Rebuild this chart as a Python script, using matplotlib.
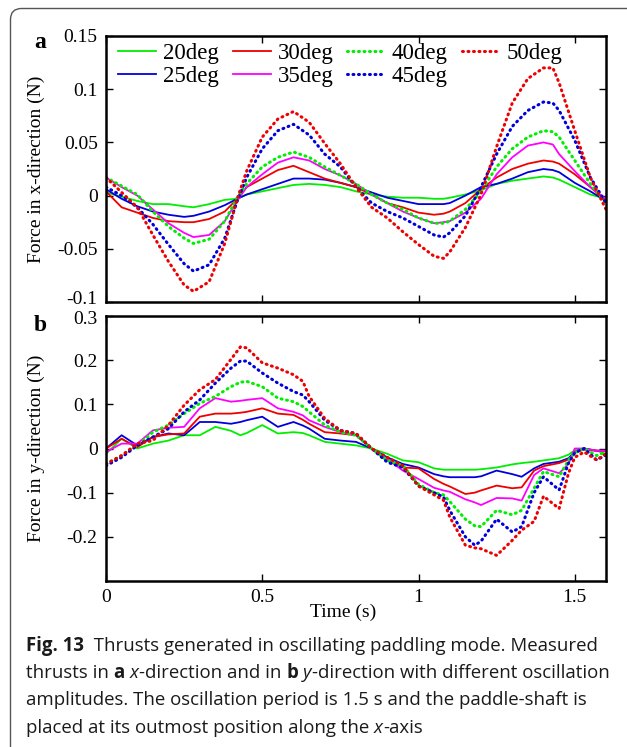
import matplotlib
matplotlib.use('Agg')
import matplotlib.pyplot as plt
from matplotlib.transforms import IdentityTransform, ScaledTranslation
from matplotlib.patches import FancyBboxPatch

plt.rcParams['axes.unicode_minus'] = False

# ---- panel a: force in x-direction (N) ----
t_a = [0, 0.05, 0.1, 0.15, 0.2, 0.25, 0.28, 0.33, 0.38, 0.42, 0.45, 0.5, 0.55, 0.6,
       0.65, 0.7, 0.75, 0.8, 0.85, 0.9, 0.95, 1.0, 1.05, 1.08, 1.1, 1.15, 1.2, 1.25,
       1.3, 1.35, 1.4, 1.43, 1.45, 1.5, 1.55, 1.6]
fx_20 = [0.003, -0.001, -0.005, -0.008, -0.008, -0.010, -0.011, -0.008, -0.004, -0.003, 0.001, 0.004,
         0.007, 0.010, 0.011, 0.010, 0.008, 0.004, 0.001, -0.001, -0.002, -0.002, -0.003, -0.003,
         -0.002, 0.001, 0.005, 0.011, 0.014, 0.016, 0.018, 0.017, 0.015, 0.008, 0.001, -0.003]
fx_25 = [0.006, -0.003, -0.010, -0.015, -0.018, -0.020, -0.019, -0.015, -0.009, -0.003, 0.001, 0.006,
         0.011, 0.016, 0.016, 0.015, 0.012, 0.008, 0.003, -0.002, -0.005, -0.008, -0.008, -0.008,
         -0.007, 0.000, 0.008, 0.011, 0.016, 0.022, 0.025, 0.024, 0.022, 0.012, 0.004, -0.005]
fx_30 = [0.004, -0.011, -0.016, -0.021, -0.024, -0.025, -0.025, -0.022, -0.015, -0.003, 0.008, 0.016,
         0.024, 0.028, 0.022, 0.016, 0.012, 0.008, 0.001, -0.007, -0.011, -0.016, -0.018, -0.017,
         -0.015, -0.007, 0.006, 0.017, 0.025, 0.030, 0.033, 0.032, 0.030, 0.020, 0.008, -0.005]
fx_35 = [0.017, 0.008, 0.000, -0.013, -0.026, -0.035, -0.039, -0.037, -0.024, -0.005, 0.008, 0.020,
         0.031, 0.036, 0.033, 0.025, 0.019, 0.011, 0.001, -0.007, -0.015, -0.021, -0.026, -0.025,
         -0.024, -0.016, -0.003, 0.020, 0.036, 0.047, 0.050, 0.048, 0.039, 0.023, 0.008, -0.003]
fx_40 = [0.017, 0.009, 0.001, -0.015, -0.029, -0.040, -0.045, -0.041, -0.024, -0.002, 0.011, 0.027,
         0.036, 0.041, 0.036, 0.027, 0.019, 0.011, 0.001, -0.007, -0.013, -0.021, -0.026, -0.026,
         -0.024, -0.013, 0.004, 0.027, 0.044, 0.055, 0.061, 0.060, 0.055, 0.033, 0.011, -0.007]
fx_45 = [0.008, 0.000, -0.011, -0.027, -0.046, -0.064, -0.071, -0.065, -0.040, -0.005, 0.017, 0.044,
         0.061, 0.067, 0.057, 0.039, 0.027, 0.008, -0.007, -0.015, -0.021, -0.029, -0.037, -0.039,
         -0.035, -0.019, 0.008, 0.039, 0.065, 0.080, 0.088, 0.087, 0.080, 0.052, 0.017, -0.007]
fx_50 = [0.017, 0.003, -0.011, -0.037, -0.062, -0.084, -0.090, -0.081, -0.045, -0.003, 0.023, 0.055,
         0.072, 0.079, 0.069, 0.049, 0.030, 0.008, -0.011, -0.021, -0.034, -0.046, -0.057, -0.059,
         -0.053, -0.030, 0.001, 0.046, 0.087, 0.110, 0.120, 0.120, 0.106, 0.061, 0.017, -0.013]

# ---- panel b: force in y-direction (N) ----
t_b = [0, 0.05, 0.1, 0.15, 0.2, 0.25, 0.3, 0.35, 0.4, 0.43, 0.45, 0.5, 0.55, 0.6, 0.63, 0.65,
       0.7, 0.75, 0.8, 0.85, 0.9, 0.95, 1.0, 1.05, 1.08, 1.1, 1.15, 1.18, 1.2, 1.25, 1.3, 1.33,
       1.37, 1.4, 1.45, 1.48, 1.5, 1.53, 1.57, 1.6]
fy_20 = [-0.012, 0.022, 0.000, 0.011, 0.018, 0.030, 0.030, 0.049, 0.040, 0.030, 0.035, 0.053, 0.034,
         0.037, 0.035, 0.030, 0.015, 0.011, 0.007, 0.000, -0.012, -0.027, -0.031, -0.045, -0.048,
         -0.048, -0.048, -0.048, -0.047, -0.043, -0.036, -0.033, -0.030, -0.027, -0.022, -0.014,
         -0.004, 0.000, -0.005, -0.012]
fy_25 = [0.000, 0.030, 0.007, 0.026, 0.034, 0.030, 0.060, 0.060, 0.056, 0.060, 0.064, 0.072, 0.049,
         0.060, 0.052, 0.045, 0.022, 0.018, 0.015, 0.000, -0.020, -0.035, -0.043, -0.058, -0.063,
         -0.065, -0.065, -0.065, -0.063, -0.050, -0.058, -0.064, -0.045, -0.035, -0.030, -0.022,
         -0.008, 0.000, -0.005, -0.005]
fy_30 = [0.000, 0.022, 0.003, 0.026, 0.032, 0.034, 0.072, 0.079, 0.079, 0.081, 0.083, 0.091, 0.079,
         0.076, 0.065, 0.056, 0.037, 0.034, 0.030, 0.000, -0.024, -0.043, -0.045, -0.069, -0.080,
         -0.086, -0.103, -0.100, -0.095, -0.084, -0.090, -0.088, -0.050, -0.040, -0.033, -0.025,
         -0.008, -0.003, -0.005, -0.005]
fy_35 = [-0.008, 0.011, 0.011, 0.041, 0.047, 0.049, 0.091, 0.114, 0.106, 0.108, 0.110, 0.114, 0.091,
         0.083, 0.075, 0.064, 0.049, 0.037, 0.030, 0.000, -0.024, -0.050, -0.069, -0.089, -0.095,
         -0.098, -0.115, -0.122, -0.128, -0.112, -0.113, -0.118, -0.060, -0.045, -0.056, -0.035,
         0.000, 0.000, -0.005, -0.005]
fy_40 = [-0.035, -0.016, 0.007, 0.037, 0.053, 0.079, 0.102, 0.118, 0.140, 0.150, 0.152, 0.140, 0.114,
         0.106, 0.095, 0.083, 0.053, 0.037, 0.030, 0.000, -0.027, -0.039, -0.081, -0.100, -0.105,
         -0.120, -0.160, -0.175, -0.177, -0.140, -0.150, -0.140, -0.090, -0.052, -0.064, -0.026,
         -0.010, 0.000, -0.016, -0.008]
fy_45 = [-0.039, -0.020, 0.007, 0.026, 0.045, 0.083, 0.110, 0.148, 0.182, 0.198, 0.198, 0.171, 0.148,
         0.129, 0.121, 0.106, 0.064, 0.041, 0.034, 0.000, -0.031, -0.043, -0.085, -0.100, -0.110,
         -0.140, -0.200, -0.219, -0.210, -0.160, -0.189, -0.177, -0.100, -0.064, -0.094, -0.033,
         -0.010, 0.000, -0.026, -0.015]
fy_50 = [-0.035, -0.016, 0.011, 0.018, 0.053, 0.098, 0.133, 0.156, 0.202, 0.230, 0.228, 0.194, 0.182,
         0.167, 0.152, 0.118, 0.068, 0.041, 0.034, 0.000, -0.020, -0.039, -0.085, -0.105, -0.117,
         -0.155, -0.219, -0.225, -0.227, -0.242, -0.208, -0.185, -0.165, -0.108, -0.136, -0.056,
         -0.020, -0.008, -0.026, -0.012]

labels = ['20deg', '25deg', '30deg', '35deg', '40deg', '45deg', '50deg']
colors = ['#00ee00', '#0000dd', '#ee0000', '#ff00ff', '#00ee00', '#0000dd', '#ee0000']
dotted = [False, False, False, False, True, True, True]
fx_all = [fx_20, fx_25, fx_30, fx_35, fx_40, fx_45, fx_50]
fy_all = [fy_20, fy_25, fy_30, fy_35, fy_40, fy_45, fy_50]

W, H = 627, 747
fig = plt.figure(figsize=(W / 100, H / 100), dpi=100)
ax1 = fig.add_axes([106 / W, 1 - 302 / H, 500 / W, 266 / H])
ax2 = fig.add_axes([106 / W, 1 - 581 / H, 500 / W, 265 / H])

serif = 'Liberation Serif'
fs = 14

for fx, fy, lab, c, d in zip(fx_all, fy_all, labels, colors, dotted):
    if d:
        kw = dict(color=c, lw=2.2, linestyle=(0, (0.3, 1.5)), dash_capstyle='round')
    else:
        kw = dict(color=c, lw=1.3, linestyle='-')
    ax1.plot(t_a, fx, label=lab, **kw)
    ax2.plot(t_b, fy, **kw)

for ax in (ax1, ax2):
    ax.set_xlim(0, 1.6)
    ax.set_xticks([0, 0.5, 1, 1.5])
    ax.tick_params(direction='in', top=True, right=True, length=5, width=1, pad=6)
    for s in ax.spines.values():
        s.set_linewidth(1.8)

ax1.set_ylim(-0.1, 0.15)
ax1.set_yticks([-0.1, -0.05, 0, 0.05, 0.1, 0.15])
ax1.set_yticklabels(['-0.1', '-0.05', '0', '0.05', '0.1', '0.15'], family=serif, fontsize=fs)
ax1.set_xticklabels([])
ax1.set_ylabel('Force in x-direction (N)', family=serif, fontsize=fs)
ax1.yaxis.set_label_coords(-0.122, 0.5)

ax2.set_ylim(-0.3, 0.3)
ax2.set_yticks([-0.2, -0.1, 0, 0.1, 0.2, 0.3])
ax2.set_yticklabels(['-0.2', '-0.1', '0', '0.1', '0.2', '0.3'], family=serif, fontsize=fs)
ax2.set_xticklabels(['0', '0.5', '1', '1.5'], family=serif, fontsize=fs)
ax2.set_ylabel('Force in y-direction (N)', family=serif, fontsize=fs)
ax2.yaxis.set_label_coords(-0.122, 0.5)
ax2.set_xlabel('Time (s)', family=serif, fontsize=fs)
ax2.xaxis.set_label_coords(0.474, -0.085)

# the two labels where the panels meet sit slightly apart, as in the original
lab_lo = ax1.yaxis.get_major_ticks()[0].label1
lab_lo.set_transform(lab_lo.get_transform() + ScaledTranslation(0, 0.04, fig.dpi_scale_trans))
lab_hi = ax2.yaxis.get_major_ticks()[-1].label1
lab_hi.set_transform(lab_hi.get_transform() + ScaledTranslation(0, -0.02, fig.dpi_scale_trans))

ax1.legend(ncol=4, loc='upper left', bbox_to_anchor=(0.013, 0.995), frameon=False,
           prop={'family': serif, 'size': 16.5}, handlelength=1.66, handletextpad=0.3,
           columnspacing=0.6, labelspacing=0.08, borderaxespad=0.0, borderpad=0.25)

fig.text(40 / W, 1 - 42 / H, 'a', family=serif, fontsize=17, weight='bold', ha='center', va='center')
fig.text(40 / W, 1 - 325 / H, 'b', family=serif, fontsize=17, weight='bold', ha='center', va='center')

# outer rounded frame (only top and left edges fall inside the image)
frame = FancyBboxPatch((10.5, -20), 800, H - 8.5 + 20, boxstyle='round,pad=0,rounding_size=11',
                       transform=IdentityTransform(), fill=False, ec='#555555', lw=1.0)
fig.add_artist(frame)

# caption
cap_font = 'Open Sans'
renderer = fig.canvas.get_renderer()


def adv(s, size, **kw):
    t1 = fig.text(0, 0, 'I' + s + 'I', family=cap_font, fontsize=size, transform=IdentityTransform(), **kw)
    t2 = fig.text(0, 0, 'II', family=cap_font, fontsize=size, transform=IdentityTransform(), **kw)
    w = t1.get_window_extent(renderer).width - t2.get_window_extent(renderer).width
    t1.remove()
    t2.remove()
    return w


line1 = [('Fig. 13', {'weight': 'bold'}), ('  Thrusts generated in oscillating paddling mode. Measured', {})]
line2 = [('thrusts in ', {}), ('a', {'weight': 'bold'}), (' ', {}), ('x', {'style': 'italic'}),
         ('-direction and in ', {}), ('b', {'weight': 'bold'}), (' ', {}), ('y', {'style': 'italic'}),
         ('-direction with different oscillation', {})]
line3 = [('amplitudes. The oscillation period is 1.5 s and the paddle-shaft is', {})]
line4 = [('placed at its outmost position along the ', {}), ('x', {'style': 'italic'}), ('-axis', {})]

base = 10
w1 = sum(adv(s, base, **k) for s, k in line1)
cap_size = base * 571 / w1

for i, line in enumerate([line1, line2, line3, line4]):
    x = 26
    y = H - (651 + 27.2 * i)
    for s, k in line:
        fig.text(x, y, s, family=cap_font, fontsize=cap_size, color='#1a1a1a',
                 transform=IdentityTransform(), va='baseline', **k)
        x += adv(s, cap_size, **k)

fig.savefig('out.png', dpi=100)
